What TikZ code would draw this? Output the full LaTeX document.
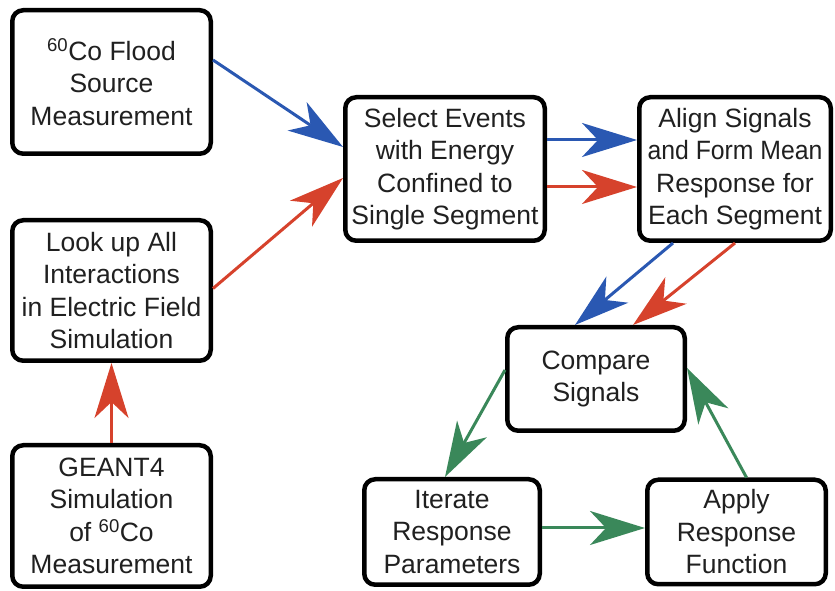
\documentclass[tikz,border=0pt]{standalone}
\usepackage{fontspec}
\setmainfont{Liberation Sans}
\usetikzlibrary{arrows.meta,calc}

\definecolor{flowblue}{RGB}{42,88,178}
\definecolor{flowred}{RGB}{214,66,44}
\definecolor{flowgreen}{RGB}{58,136,90}
\definecolor{inktext}{RGB}{32,32,32}

\tikzset{
  stepbox/.style={draw=black, line width=4.5pt, rounded corners=11pt,
    fill=white, align=center, inner sep=0pt, text=inktext,
    font=\fontsize{26.5pt}{32.5pt}\selectfont},
  flow/.style={line width=3pt, -{Stealth[length=55pt,width=34pt,inset=16pt]}},
}

\begin{document}
\begin{tikzpicture}[x=1pt,y=1pt]
\useasboundingbox (0,0) rectangle (835,591);

% measurement and simulation inputs
\node[stepbox, minimum width=198.5pt, minimum height=143.5pt] (flood) at (111.5,509)
  {\textsuperscript{60}Co Flood\\Source\\Measurement};
\node[stepbox, minimum width=198.5pt, minimum height=140.5pt] (lookup) at (111.5,300.5)
  {Look up All\\Interactions\\in Electric Field\\Simulation};
\node[stepbox, minimum width=198.5pt, minimum height=141.5pt] (geant) at (111.5,75)
  {GEANT4\\Simulation\\of \textsuperscript{60}Co\\Measurement};

% event selection and averaging
\node[stepbox, minimum width=199.5pt, minimum height=143.5pt] (select) at (445,422)
  {Select Events\\with Energy\\Confined to\\Single Segment};
\node[stepbox, minimum width=191.5pt, minimum height=143.5pt] (align) at (735,422)
  {Align Signals\\\scalebox{0.935}[1]{and Form Mean}\\Response for\\Each Segment};

% fitting loop
\node[stepbox, minimum width=177.5pt, minimum height=103.5pt] (compare) at (596,212)
  {Compare\\Signals};
\node[stepbox, minimum width=175.5pt, minimum height=105.5pt] (iterate) at (452,59)
  {Iterate\\Response\\Parameters};
\node[stepbox, minimum width=178.5pt, minimum height=104.5pt] (apply) at (736.5,59)
  {Apply\\Response\\Function};

% measured data path (blue)
\draw[flow, flowblue] ($(flood.east)+(0,22)$) -- ($(select.west)+(0,22)$);
\draw[flow, flowblue] ($(select.east)+(0,29)$) -- ($(align.west)+(0,29)$);
\draw[flow, flowblue] ($(align.south)+(-62,0)$) -- ($(compare.north)+(-21,0)$);

% simulated data path (red)
\draw[flow, flowred] (geant.north) -- (lookup.south);
\draw[flow, flowred] ($(lookup.east)+(0,2)$) -- ($(select.west)+(0,-9)$);
\draw[flow, flowred] ($(select.east)+(0,-18)$) -- ($(align.west)+(0,-18)$);
\draw[flow, flowred] (align.south) -- ($(compare.north)+(37,0)$);

% response fitting loop (green)
\draw[flow, flowgreen] ($(compare.west)+(0,9)$) -- ($(iterate.north)+(-7,0)$);
\draw[flow, flowgreen] ($(iterate.east)+(0,4)$) -- ($(apply.west)+(0,4)$);
\draw[flow, flowgreen] ($(apply.north)+(10,0)$) -- ($(compare.east)+(0,11)$);
\end{tikzpicture}
\end{document}
